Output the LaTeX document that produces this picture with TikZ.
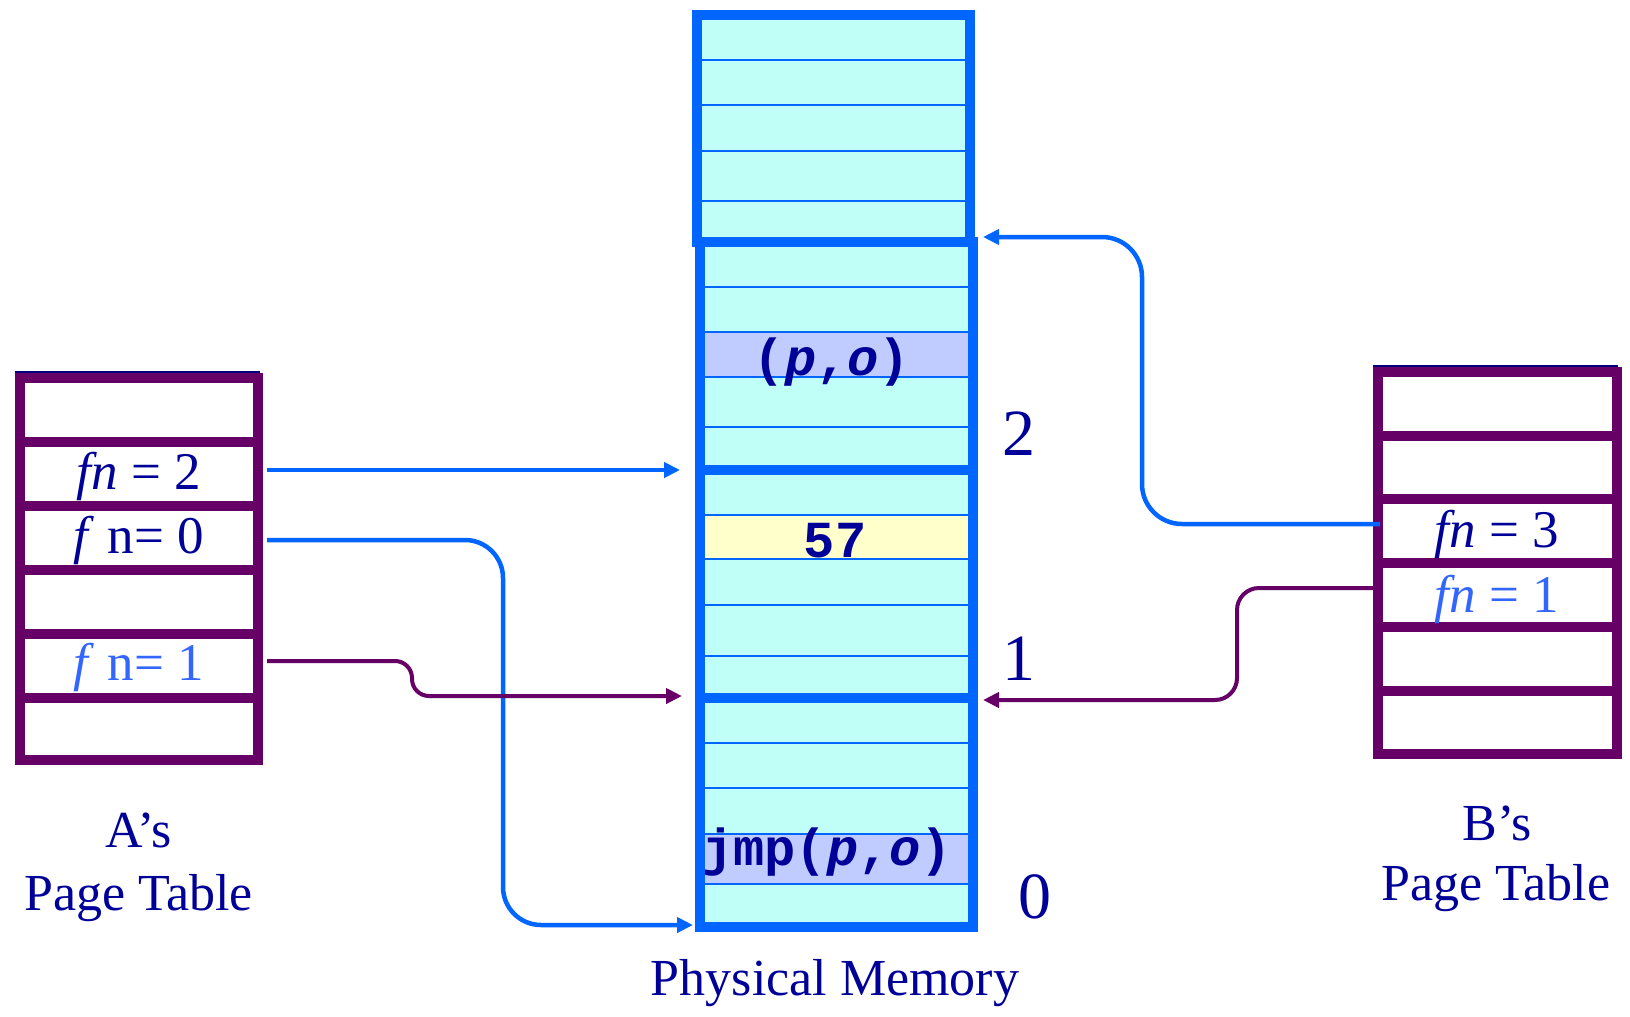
\documentclass[tikz,border=0pt]{standalone}
\usepackage{fontspec}
\setmainfont{Liberation Serif}
\setmonofont{Liberation Mono}
\usetikzlibrary{arrows.meta}
\definecolor{ptpurple}{HTML}{660066}
\definecolor{memblue}{HTML}{0066FF}
\definecolor{memfill}{RGB}{192,255,247}
\definecolor{lav}{RGB}{192,204,255}
\definecolor{paleyel}{RGB}{255,255,204}
\definecolor{navy}{HTML}{000099}
\definecolor{ltblue}{HTML}{3366FF}
\definecolor{topnavy}{HTML}{000080}
\begin{document}
\begin{tikzpicture}[x=1pt,y=-1pt,
  ptframe/.style={draw=ptpurple,line width=10pt,fill=white},
  ptbar/.style={draw=ptpurple,line width=10pt},
  memframe/.style={draw=memblue,line width=10pt},
  memline/.style={draw=memblue,line width=2pt},
  bluearrow/.style={draw=memblue,line width=4.5pt,-{Triangle[length=16pt,width=15pt]}},
  purplearrow/.style={draw=ptpurple,line width=4pt,-{Triangle[length=16pt,width=15pt]}},
  lbl/.style={inner sep=0pt,anchor=base,text=navy,font=\fontsize{52}{62}\selectfont},
  fnlbl/.style={inner sep=0pt,anchor=base,font=\fontsize{53}{62}\selectfont},
  numlbl/.style={inner sep=0pt,anchor=base,text=navy,font=\fontsize{66}{76}\selectfont},
  memtxt/.style={inner sep=0pt,anchor=base,text=navy,font=\fontsize{52}{62}\selectfont\ttfamily\bfseries}
]
\useasboundingbox (0,0) rectangle (1630,1017);

% ---------- Physical memory ----------
\fill[memfill] (697,15) rectangle (973,927);
\fill[lav] (705,332) rectangle (968,377);
\fill[paleyel] (705,515) rectangle (968,559);
\fill[lav] (705,834) rectangle (968,884);
\foreach \y in {60,105,151,201} \draw[memline] (702,\y) -- (965,\y);
\foreach \y in {287,332,377,427,515,559,605,656,743,788,834,884} \draw[memline] (705,\y) -- (968,\y);
\draw[memframe] (700,242) rectangle (973,927);
\draw[memframe] (697,15) rectangle (970,242);
\draw[memframe] (695,470) -- (978,470);
\draw[memframe] (695,698) -- (978,698);

\node[memtxt] (po) at (832,375) {(\textit{p},\textit{o})};
\node[memtxt] (v57) at (835,557) {57};
\node[memtxt] (jmp) at (827,865) {jmp(\textit{p},\textit{o})};

\node[numlbl] (n2) at (1019,455) {2};
\node[numlbl] (n1) at (1019,680) {1};
\node[numlbl] (n0) at (1035,918) {0};
\node[lbl] (pm) at (835,995) {Physical Memory};

% ---------- A's page table ----------
\draw[topnavy,line width=2.5pt] (15,372) -- (260,372);
\draw[ptframe] (20,378) rectangle (258,760);
\foreach \y in {442,506,570,634,698} \draw[ptbar] (15,\y) -- (263,\y);
\node[fnlbl,text=navy] (a2) at (139,489) {\textit{fn} = 2};
\node[fnlbl,text=navy] (a0) at (139,553) {\textit{f} n= 0};
\node[fnlbl,text=ltblue] (a1) at (139,680) {\textit{f} n= 1};
\node[lbl] (as) at (138.5,847) {A’s};
\node[lbl] (apt) at (138.5,910) {Page Table};

% ---------- B's page table ----------
\draw[topnavy,line width=2.5pt] (1373,366) -- (1618,366);
\draw[ptframe] (1378,372) rectangle (1617,753.5);
\foreach \y in {435.5,499,562.5,626.5,690.5} \draw[ptbar] (1373,\y) -- (1622,\y);
\node[fnlbl,text=navy] (b3) at (1497,547) {\textit{fn} = 3};
\node[fnlbl,text=ltblue] (b1) at (1497,612) {\textit{fn} = 1};
\node[lbl] (bs) at (1497,840) {B’s};
\node[lbl] (bpt) at (1496,900) {Page Table};

% ---------- connector end points ----------
\coordinate (Afn2) at (267,470);
\coordinate (Afn0) at (267,540);
\coordinate (Afn1) at (267,661);
\coordinate (Bfn3) at (1380,524);
\coordinate (Bfn1) at (1373,588);
\coordinate (F2in) at (680,470);
\coordinate (F0in) at (693,925);
\coordinate (F1in) at (682,696);
\coordinate (F3in) at (983,237);
\coordinate (F1inR) at (983,700);

% ---------- connectors ----------
\draw[bluearrow] (Afn2) -- (F2in);
\draw[bluearrow,rounded corners=38pt] (Afn0) -- (503,540) -- (503,925) -- (F0in);
\draw[purplearrow,rounded corners=17pt] (Afn1) -- (412,661) -- (412,696) -- (F1in);
\draw[bluearrow,rounded corners=40pt] (Bfn3) -- (1142,524) -- (1142,237) -- (F3in);
\draw[purplearrow,rounded corners=22pt] (Bfn1) -- (1237,588) -- (1237,700) -- (F1inR);
\end{tikzpicture}
\end{document}
